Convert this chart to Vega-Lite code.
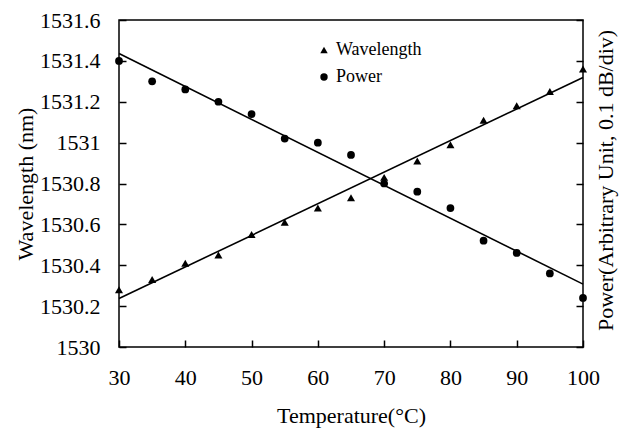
{
  "$schema": "https://vega.github.io/schema/vega-lite/v6.json",
  "width": 464,
  "height": 327,
  "autosize": {"type": "none"},
  "padding": {"left": 119, "top": 20, "right": 36, "bottom": 83},
  "background": "white",
  "config": {
    "font": "Liberation Serif",
    "view": {"stroke": "black", "strokeWidth": 1.5},
    "axis": {
      "labelFlush": false,
      "labelOverlap": false,
      "grid": false,
      "labelColor": "black",
      "labelFont": "Liberation Serif",
      "labelFontSize": 22,
      "titleColor": "black",
      "titleFont": "Liberation Serif",
      "titleFontSize": 22,
      "titleFontWeight": "normal"
    },
    "legend": {
      "labelFont": "Liberation Serif",
      "labelFontSize": 18,
      "labelColor": "black"
    }
  },
  "data": {
    "values": [
      {"temp": 30, "series": "Wavelength", "value": 1530.28},
      {"temp": 35, "series": "Wavelength", "value": 1530.33},
      {"temp": 40, "series": "Wavelength", "value": 1530.41},
      {"temp": 45, "series": "Wavelength", "value": 1530.45},
      {"temp": 50, "series": "Wavelength", "value": 1530.55},
      {"temp": 55, "series": "Wavelength", "value": 1530.61},
      {"temp": 60, "series": "Wavelength", "value": 1530.68},
      {"temp": 65, "series": "Wavelength", "value": 1530.73},
      {"temp": 70, "series": "Wavelength", "value": 1530.83},
      {"temp": 75, "series": "Wavelength", "value": 1530.91},
      {"temp": 80, "series": "Wavelength", "value": 1530.99},
      {"temp": 85, "series": "Wavelength", "value": 1531.11},
      {"temp": 90, "series": "Wavelength", "value": 1531.18},
      {"temp": 95, "series": "Wavelength", "value": 1531.25},
      {"temp": 100, "series": "Wavelength", "value": 1531.36},
      {"temp": 30, "series": "Power", "value": 1531.40},
      {"temp": 35, "series": "Power", "value": 1531.30},
      {"temp": 40, "series": "Power", "value": 1531.26},
      {"temp": 45, "series": "Power", "value": 1531.20},
      {"temp": 50, "series": "Power", "value": 1531.14},
      {"temp": 55, "series": "Power", "value": 1531.02},
      {"temp": 60, "series": "Power", "value": 1531.00},
      {"temp": 65, "series": "Power", "value": 1530.94},
      {"temp": 70, "series": "Power", "value": 1530.80},
      {"temp": 75, "series": "Power", "value": 1530.76},
      {"temp": 80, "series": "Power", "value": 1530.68},
      {"temp": 85, "series": "Power", "value": 1530.52},
      {"temp": 90, "series": "Power", "value": 1530.46},
      {"temp": 95, "series": "Power", "value": 1530.36},
      {"temp": 100, "series": "Power", "value": 1530.24}
    ]
  },
  "encoding": {
    "x": {
      "field": "temp",
      "type": "quantitative",
      "title": "Temperature(°C)",
      "scale": {"domain": [30, 100], "nice": false, "zero": false},
      "axis": {
        "values": [30, 40, 50, 60, 70, 80, 90, 100],
        "zindex": 1,
        "domain": false,
        "offset": -7,
        "ticks": true,
        "tickSize": 7,
        "tickColor": "black",
        "tickOpacity": 1,
        "tickWidth": 1.5,
        "labelPadding": 20,
        "titlePadding": 17
      }
    }
  },
  "layer": [
    {
      "transform": [{"filter": "datum.series === 'Wavelength'"}],
      "encoding": {
        "y": {
          "field": "value",
          "type": "quantitative",
          "title": "Wavelength (nm)",
          "scale": {"domain": [1530, 1531.6], "nice": false, "zero": false},
          "axis": {
            "orient": "left",
            "values": [1530, 1530.2, 1530.4, 1530.6, 1530.8, 1531, 1531.2, 1531.4, 1531.6],
            "format": "~r",
            "zindex": 1,
            "domain": false,
            "offset": -7,
            "ticks": true,
            "tickSize": 7,
            "tickColor": "black",
            "tickOpacity": 1,
            "tickWidth": 1.5,
            "labelPadding": 19,
            "titlePadding": 2
          }
        }
      },
      "layer": [
        {
          "mark": {"type": "point", "filled": true, "color": "black", "opacity": 1, "size": 65},
          "encoding": {
            "shape": {
              "field": "series",
              "type": "nominal",
              "scale": {"domain": ["Wavelength", "Power"], "range": ["triangle-up", "circle"]},
              "legend": {
                "title": null,
                "orient": "none",
                "legendX": 196,
                "legendY": 21,
                "symbolSize": 55,
                "symbolFillColor": "black",
                "symbolStrokeColor": "black",
                "rowPadding": 9,
                "labelOffset": 3
              }
            }
          }
        },
        {
          "transform": [{"regression": "value", "on": "temp", "extent": [30, 100]}],
          "mark": {"type": "line", "color": "black", "strokeWidth": 1.6}
        }
      ]
    },
    {
      "transform": [{"filter": "datum.series === 'Power'"}],
      "encoding": {
        "y": {
          "field": "value",
          "type": "quantitative",
          "title": "Power(Arbitrary Unit, 0.1 dB/div)",
          "scale": {"domain": [1530, 1531.6], "nice": false, "zero": false},
          "axis": {
            "orient": "right",
            "values": [1530, 1530.2, 1530.4, 1530.6, 1530.8, 1531, 1531.2, 1531.4, 1531.6],
            "labels": false,
            "zindex": 1,
            "domain": false,
            "offset": -7,
            "ticks": true,
            "tickSize": 7,
            "tickColor": "black",
            "tickOpacity": 1,
            "tickWidth": 1.5,
            "titleAngle": 270,
            "titleX": 29,
            "titleY": 160,
            "titleAlign": "center",
            "titleBaseline": "middle"
          }
        }
      },
      "layer": [
        {
          "mark": {"type": "point", "filled": true, "color": "black", "opacity": 1, "size": 60},
          "encoding": {
            "shape": {"field": "series", "type": "nominal"}
          }
        },
        {
          "transform": [{"regression": "value", "on": "temp", "extent": [30, 100]}],
          "mark": {"type": "line", "color": "black", "strokeWidth": 1.6}
        }
      ]
    }
  ],
  "resolve": {"scale": {"y": "independent"}}
}
